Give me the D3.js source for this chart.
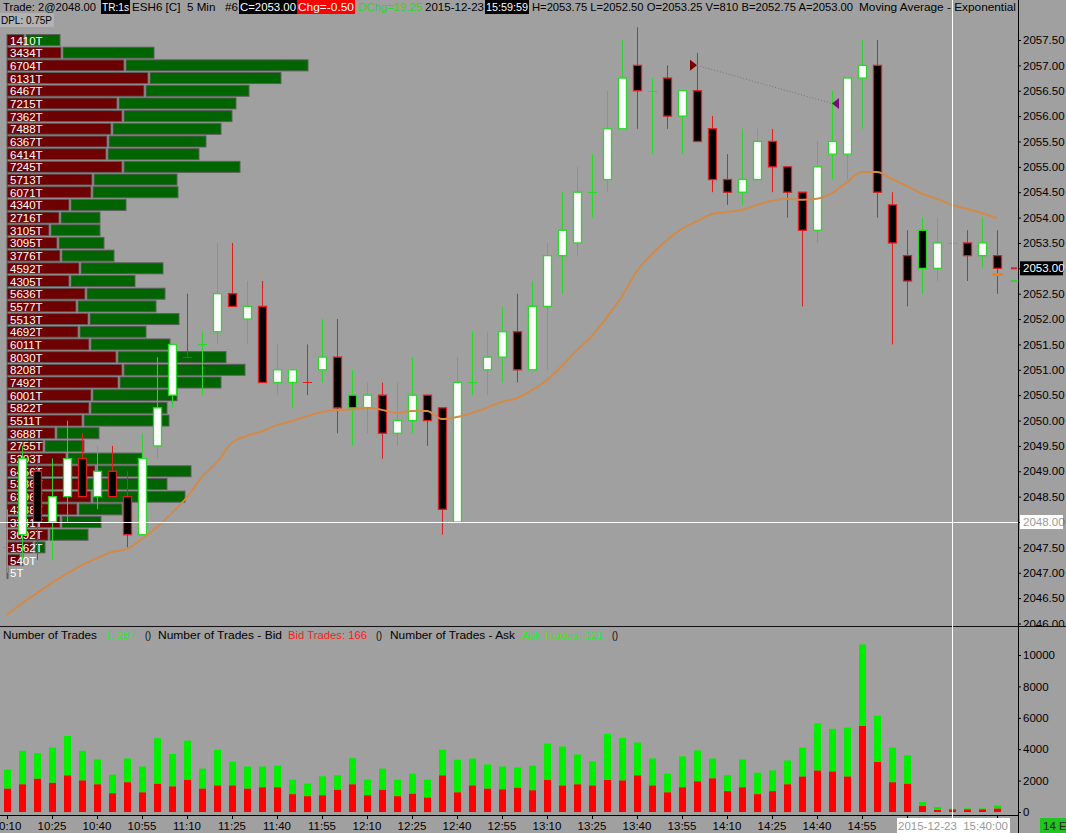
<!DOCTYPE html>
<html><head><meta charset="utf-8">
<script src="https://cdn.jsdelivr.net/npm/d3@7"></script>
<style>
html,body{margin:0;padding:0;background:#a0a0a0;overflow:hidden}
svg{display:block;font-family:"Liberation Sans",Arial,sans-serif}
text{white-space:pre}
</style></head><body>
<svg id="chart" width="1066" height="833"></svg>
<script>
// ESH6 5 min — candles, EMA, bid/ask volume profile, number of trades (bid/ask).
const TIMES = ["10:10","10:25","10:40","10:55","11:10","11:25","11:40","11:55","12:10","12:25",
  "12:40","12:55","13:10","13:25","13:40","13:55","14:10","14:25","14:40","14:55"];

const OPEN = [2047.5,2047.75,2049,2048,2048.5,2049.25,2048.5,2049,2048.5,2047.75,
  2049.5,2050.5,2051.25,2051.5,2051.75,2052.5,2052,2052.25,2050.75,2050.75,
  2050.75,2051,2051.25,2050.5,2050.25,2050.5,2049.75,2050,2050.5,2050.25,
  2048,2050.75,2051,2051.25,2051.75,2051,2052.25,2053.25,2053.5,2054.5,
  2054.75,2055.75,2057,2056.5,2056.75,2056,2056.5,2055.75,2054.75,2054.5,
  2054.75,2055.5,2055,2054.5,2053.75,2055.25,2055.25,2056.75,2057,2054.25,
  2053.25,2053.75,2053,2053.5,2053.5,2053.25,2053.25];
const HIGH = [2048.25,2049.5,2049.25,2049.25,2050,2049.75,2049.5,2049.5,2049,2049.75,
  2051.25,2051.5,2052.5,2051.75,2053.5,2053.5,2052.75,2052.75,2051.5,2051,
  2051.5,2052,2052,2051,2050.75,2050.75,2050.75,2051.25,2050.5,2050.25,
  2051.25,2051.75,2051.75,2052.25,2052.5,2052.75,2053.5,2054.5,2055,2055.25,
  2056.5,2057.5,2057.75,2056.75,2057,2056.5,2057.25,2056,2055.25,2055.75,
  2055.75,2055.75,2055,2054.5,2055.5,2056.5,2056.75,2057.5,2057.5,2054.5,
  2053.75,2054,2054,2053.75,2053.75,2054,2053.75];
const LOW = [2047,2047.25,2047.25,2047.25,2048,2048.5,2048.25,2048.5,2047.5,2047.75,
  2049.25,2050.25,2051.25,2050.5,2051.5,2052.25,2051.5,2050.75,2050.5,2050.25,
  2050.5,2050.75,2049.75,2049.5,2049.75,2049.25,2049.5,2049.75,2049.5,2047.75,
  2048,2050.5,2050.5,2050.75,2050.75,2051,2051,2052.5,2053.25,2054,
  2054.5,2055.75,2055.75,2055.25,2055.75,2055.25,2055.5,2054.5,2054.25,2054.25,
  2054.75,2054.5,2054,2052.25,2053.5,2054.75,2054.75,2055.75,2054,2051.5,
  2052.25,2052.5,2052.75,2053,2052.75,2053,2052.5];
const CLOSE = [2047.5,2049.25,2048,2048.5,2049.25,2048.5,2049,2048.5,2047.75,2049.25,
  2050.25,2051.5,2051.25,2051.5,2052.5,2052.25,2052.25,2050.75,2051,2051,
  2050.75,2051.25,2050.25,2050.25,2050.5,2049.75,2050,2050.5,2050,2048.25,
  2050.75,2050.75,2051.25,2051.75,2051,2052.25,2053.25,2053.75,2054.5,2054.5,
  2055.75,2056.75,2056.5,2056.5,2056,2056.5,2055.5,2054.75,2054.5,2054.75,
  2055.5,2055,2054.5,2053.75,2055,2055.5,2056.75,2057,2054.5,2053.5,
  2052.75,2053,2053.5,2053.5,2053.25,2053.5,2053];

// exponential moving average
const EMA = [2046.17,2046.4,2046.6,2046.8,2046.99,2047.15,2047.29,2047.41,2047.47,2047.67,
  2047.9,2048.18,2048.49,2048.89,2049.18,2049.56,2049.7,2049.79,2049.91,2049.99,
  2050.09,2050.17,2050.21,2050.22,2050.25,2050.21,2050.15,2050.19,2050.19,2050.03,
  2050.07,2050.15,2050.25,2050.37,2050.44,2050.6,2050.8,2051.08,2051.39,2051.67,
  2052.04,2052.45,2052.95,2053.28,2053.56,2053.78,2053.93,2054.07,2054.11,2054.15,
  2054.25,2054.33,2054.37,2054.35,2054.37,2054.48,2054.7,2054.9,2054.9,2054.76,
  2054.62,2054.47,2054.37,2054.25,2054.17,2054.09,2053.99];

// number of trades per bar at the bid (red) and at the ask (green)
const BID_TRADES = [1500,1770,2130,1870,2340,2020,1770,1200,1900,1260,
  1810,1640,2060,1500,1700,1700,1500,1580,1580,1140,
  1010,1070,1430,1770,1070,1430,1010,1180,930,2340,
  1260,1700,1500,1450,1560,1390,2060,1700,1770,1700,
  2060,2020,2340,1700,1260,1580,1960,2150,1330,1580,
  1140,1330,1770,2270,2650,2590,2270,5490,3200,1900,
  1810,380,130,170,170,170,230];
const ASK_TRADES = [1200,2130,1620,2230,2500,1880,1580,1180,1510,1640,
  2890,2060,2490,1260,2260,1500,1400,1320,1370,920,
  800,1200,910,1660,990,1330,1050,1260,1130,1620,
  2070,1710,1530,1450,1280,1560,2300,2470,1890,1520,
  2910,2700,2080,1710,1180,1960,1960,1260,1010,1770,
  1360,1320,1510,1830,2990,2710,3100,5180,2930,2200,
  1790,250,190,40,60,60,170];

// volume profile, one row per tick from the top price down
const PROFILE_TOP = 2057.5, TICK = 0.25;
const PROFILE_LABEL = ["1410T","3434T","6704T","6131T","6467T","7215T","7362T","7488T","6367T","6414T",
  "7245T","5713T","6071T","4340T","2716T","3105T","3095T","3776T","4592T","4305T",
  "5636T","5577T","5513T","4692T","6011T","8030T","8208T","7492T","6001T","5822T",
  "5511T","3688T","2755T","5203T","6456T","5386T","6396T","4388T","3341T","3092T",
  "1562T","540T","5T"];
const PROFILE_BID = [340,1080,2340,2820,2740,2200,2300,2080,2000,1980,
  2300,1700,1680,1240,1040,840,1000,1060,1440,1240,
  1560,1380,1620,1420,1640,2180,2300,2220,1680,1640,
  1500,960,720,1180,1760,1560,1680,1400,1060,820,
  520,260,20];
const PROFILE_ASK = [680,1820,3640,2620,2060,2340,2160,2160,1940,1820,
  2320,1660,1700,1100,780,980,900,1040,1640,1280,
  1560,1560,1780,1320,1580,2160,2420,2020,1680,1520,
  1700,840,780,1480,1880,1600,1840,860,780,760,
  200,20,0];

const LAST = 2053.00, BID = 2052.75, ASK = 2053.00, CROSS_PRICE = 2048.00, CROSS_BAR = 63;
const ARROWS = [{bar: 46, price: 2057.0, dir: 1, color: "#7a0000"},
                {bar: 55, price: 2056.25, dir: -1, color: "#7d0a7d"}];
const ORANGE_MARK = {bar: 66, price: 2052.88};

const GREEN = "#2bd72b", RED = "#e01e1e", EMA_COL = "#d38a48";
const AX = 1018, PANEL_SPLIT = 626;

const svg = d3.select("#chart");
svg.append("rect").attr("width", 1066).attr("height", 833).attr("fill", "#a0a0a0");

const x = d3.scaleLinear().domain([0, CLOSE.length - 1]).range([7, 997]);
const y = d3.scaleLinear().domain([2046, 2057.5]).range([623.5, 40]);
const v = d3.scaleLinear().domain([0, 10000]).range([812, 655]);
const pw = d3.scaleLinear().domain([0, 6000]).range([0, 300]);

svg.append("clipPath").attr("id", "pclip").append("rect")
  .attr("x", 0).attr("y", 0).attr("width", AX).attr("height", PANEL_SPLIT);
// used inside the translated axis group, so local coordinates
svg.append("clipPath").attr("id", "aclip").append("rect")
  .attr("x", 0).attr("y", 0).attr("width", 60).attr("height", PANEL_SPLIT);

const price = svg.append("g").attr("clip-path", "url(#pclip)");

// --- volume profile
const rows = PROFILE_LABEL.map((lab, k) => ({lab, p: PROFILE_TOP - k * TICK,
  bid: PROFILE_BID[k], ask: PROFILE_ASK[k]}));
const prof = price.append("g");
prof.append("line").attr("x1", 7.5).attr("x2", 7.5)
  .attr("y1", y(PROFILE_TOP) - 6).attr("y2", y(rows[rows.length - 1].p) + 6)
  .attr("stroke", "#555");
const rg = prof.selectAll("g.row").data(rows).join("g").attr("class", "row");
rg.append("rect").attr("x", 7).attr("y", d => y(d.p) - 5.5)
  .attr("width", d => Math.max(1, pw(d.bid))).attr("height", 11)
  .attr("fill", "#6d0000").attr("stroke", "#5e5e5e").attr("stroke-width", 1);
rg.filter(d => d.ask > 0).append("rect").attr("x", d => 7 + pw(d.bid) + 2).attr("y", d => y(d.p) - 5.5)
  .attr("width", d => pw(d.ask)).attr("height", 11)
  .attr("fill", "#006400").attr("stroke", "#5e5e5e").attr("stroke-width", 1);
rg.append("text").attr("x", 10).attr("y", d => y(d.p) + 4.5)
  .attr("fill", "#fff").attr("font-size", 11.5).text(d => d.lab);

// --- candles
const bars = CLOSE.map((c, i) => ({i, o: OPEN[i], h: HIGH[i], l: LOW[i], c,
  pc: i ? CLOSE[i - 1] : OPEN[i]}));
const col = d => d.c >= d.pc ? GREEN : RED;
const cg = price.append("g").selectAll("g").data(bars).join("g");
cg.append("line").attr("x1", d => x(d.i) + 0.5).attr("x2", d => x(d.i) + 0.5)
  .attr("y1", d => y(d.h)).attr("y2", d => y(d.l)).attr("stroke", col);
cg.filter(d => d.o === d.c).append("line")
  .attr("x1", d => x(d.i) - 4).attr("x2", d => x(d.i) + 5)
  .attr("y1", d => Math.round(y(d.o)) + 0.5).attr("y2", d => Math.round(y(d.o)) + 0.5)
  .attr("stroke", col);
cg.filter(d => d.o !== d.c).append("rect")
  .attr("x", d => x(d.i) - 3.5).attr("width", 8)
  .attr("y", d => y(Math.max(d.o, d.c)))
  .attr("height", d => y(Math.min(d.o, d.c)) - y(Math.max(d.o, d.c)))
  .attr("fill", d => d.c > d.o ? "#fff" : "#000")
  .attr("stroke", col).attr("stroke-width", 1.3);

// --- EMA
price.append("path").datum(EMA)
  .attr("d", d3.line().x((d, i) => x(i)).y(d => y(d)).curve(d3.curveMonotoneX))
  .attr("fill", "none").attr("stroke", EMA_COL).attr("stroke-width", 2);

// --- markers
price.append("line")
  .attr("x1", x(ARROWS[0].bar)).attr("y1", y(ARROWS[0].price))
  .attr("x2", x(ARROWS[1].bar)).attr("y2", y(ARROWS[1].price))
  .attr("stroke", "#777").attr("stroke-dasharray", "1,2");
price.selectAll("path.arrow").data(ARROWS).join("path").attr("class", "arrow")
  .attr("d", d => {
    const tx = x(d.bar), ty = y(d.price), b = tx - 7 * d.dir;
    return `M${tx},${ty} L${b},${ty - 5.5} L${b},${ty + 5.5} Z`;
  }).attr("fill", d => d.color);
price.append("rect").attr("x", x(ORANGE_MARK.bar) - 5).attr("y", y(ORANGE_MARK.price) - 1.5)
  .attr("width", 11).attr("height", 3).attr("rx", 1.5).attr("fill", "#e8841e");
price.append("rect").attr("x", 1011).attr("y", y(ASK) - 1).attr("width", 6).attr("height", 2).attr("fill", RED);
price.append("rect").attr("x", 1011).attr("y", y(BID) - 1).attr("width", 6).attr("height", 2).attr("fill", GREEN);

// horizontal crosshair
price.append("line").attr("x1", 0).attr("x2", AX).attr("y1", Math.round(y(CROSS_PRICE)) + 0.5)
  .attr("y2", Math.round(y(CROSS_PRICE)) + 0.5).attr("stroke", "#fff");

// --- price axis
const pax = svg.append("g").attr("transform", `translate(${AX},0)`)
  .append("g").attr("clip-path", "url(#aclip)")
  .call(d3.axisRight(y).tickValues(d3.range(2046, 2057.51, 0.5))
    .tickFormat(d3.format(".2f")).tickSize(3).tickPadding(2).tickSizeOuter(0));
pax.select(".domain").remove();
pax.selectAll("text").attr("font-size", 11.5).attr("fill", "#000").attr("font-family", null);
pax.selectAll("line").attr("stroke", "#000");

function axisBox(val, bg, fg) {
  const g = svg.append("g").attr("transform", `translate(${AX + 2},${y(val)})`);
  g.append("rect").attr("x", 0).attr("y", -7).attr("width", 43).attr("height", 14).attr("fill", bg);
  g.append("text").attr("x", 3).attr("y", 4).attr("font-size", 11.5).attr("fill", fg).text(d3.format(".2f")(val));
}
axisBox(LAST, "#000", "#fff");
axisBox(CROSS_PRICE, "#fff", "#9a9a9a");

// panel separator
svg.append("line").attr("x1", 0).attr("x2", 1066).attr("y1", PANEL_SPLIT + 0.5).attr("y2", PANEL_SPLIT + 0.5)
  .attr("stroke", "#111");

// --- header
function segs(list, by, boxY, boxH) {
  list.forEach(([t, fg, bg, x0, w]) => {
    if (bg) svg.append("rect").attr("x", x0 - 1).attr("y", boxY).attr("width", w + 2)
      .attr("height", boxH).attr("fill", bg);
    svg.append("text").attr("x", x0).attr("y", by).attr("font-size", 11.5).attr("fill", fg)
      .attr("textLength", w).attr("lengthAdjust", "spacingAndGlyphs").text(t);
  });
}
segs([
  ["Trade: 2@2048.00", "#000", null, 3, 93],
  ["TR:1s", "#fff", "#000", 102, 27],
  ["ESH6 [C]  5 Min   #6", "#000", null, 132, 106],
  ["C=2053.00", "#fff", "#000", 240, 56],
  ["Chg=-0.50", "#fff", "#ff0000", 298, 56],
  ["DChg=19.25", "#2ed42e", null, 358, 64],
  ["2015-12-23", "#000", null, 425, 59],
  ["15:59:59", "#fff", "#000", 486, 42],
  ["H=2053.75 L=2052.50 O=2053.25 V=810 B=2052.75 A=2053.00", "#000", null, 532, 321],
  ["Moving Average - Exponential", "#000", null, 859, 157]
], 11, 0, 14);
svg.append("rect").attr("x", 0).attr("y", 13).attr("width", 54).attr("height", 14).attr("fill", "#b2b2b2");
segs([["DPL: 0.75P", "#000", null, 1, 51]], 24, 13, 14);

// --- trades panel
const vg = svg.append("g").selectAll("g").data(bars).join("g");
vg.append("rect").attr("x", d => x(d.i) - 3).attr("width", 7)
  .attr("y", d => v(BID_TRADES[d.i])).attr("height", d => v(0) - v(BID_TRADES[d.i]))
  .attr("fill", "#ff0000");
vg.append("rect").attr("x", d => x(d.i) - 3).attr("width", 7)
  .attr("y", d => v(BID_TRADES[d.i] + ASK_TRADES[d.i]))
  .attr("height", d => v(BID_TRADES[d.i]) - v(BID_TRADES[d.i] + ASK_TRADES[d.i]))
  .attr("fill", "#00ee00");

const totBid = 166, totAsk = 121;
segs([
  ["Number of Trades", "#000", null, 3, 94],
  [`T: ${totBid + totAsk}`, "#2ee82e", null, 105, 30],
  ["()", "#000", null, 145, 6],
  ["Number of Trades - Bid", "#000", null, 158, 124],
  [`Bid Trades: ${totBid}`, "#ff1a1a", null, 288, 79],
  ["()", "#000", null, 376, 6],
  ["Number of Trades - Ask", "#000", null, 390, 125],
  [`Ask Trades: ${totAsk}`, "#2ee82e", null, 522, 81],
  ["()", "#000", null, 612, 6]
], 639, 628, 14);

const vax = svg.append("g").attr("transform", `translate(${AX},0)`)
  .call(d3.axisRight(v).tickValues(d3.range(0, 10001, 2000)).tickFormat(d3.format("d"))
    .tickSize(3).tickPadding(2).tickSizeOuter(0));
vax.select(".domain").remove();
vax.selectAll("text").attr("font-size", 11.5).attr("fill", "#000").attr("font-family", null);
vax.selectAll("line").attr("stroke", "#000");

// --- time axis
const tg = svg.append("g").attr("transform", "translate(0,815)");
tg.append("line").attr("x1", 0).attr("x2", AX).attr("y1", 0.5).attr("y2", 0.5).attr("stroke", "#000");
tg.selectAll("line.tk").data(d3.range(0, CLOSE.length, 3)).join("line").attr("class", "tk")
  .attr("x1", i => x(i) + 0.5).attr("x2", i => x(i) + 0.5).attr("y1", 0).attr("y2", 4)
  .attr("stroke", "#000");
tg.selectAll("text").data(TIMES).join("text")
  .attr("x", (t, k) => x(k * 3)).attr("y", 15).attr("text-anchor", "middle")
  .attr("font-size", 11.5).attr("fill", "#000").text(t => t);

// vertical axis line + crosshair
svg.append("line").attr("x1", AX + 0.5).attr("x2", AX + 0.5).attr("y1", 0).attr("y2", 833).attr("stroke", "#000");
svg.append("line").attr("x1", x(CROSS_BAR) + 0.5).attr("x2", x(CROSS_BAR) + 0.5)
  .attr("y1", 0).attr("y2", 818).attr("stroke", "#fff");

svg.append("rect").attr("x", 897).attr("y", 818).attr("width", 113).attr("height", 15).attr("fill", "#fff");
svg.append("text").attr("x", 953).attr("y", 830).attr("text-anchor", "middle").attr("font-size", 11.5)
  .attr("fill", "#9a9a9a").text("2015-12-23  15:40:00");
svg.append("rect").attr("x", 1040).attr("y", 818).attr("width", 26).attr("height", 15).attr("fill", "#22c322");
svg.append("text").attr("x", 1043).attr("y", 830).attr("font-size", 11.5).attr("fill", "#222").text("14 E");
</script>
</body></html>
